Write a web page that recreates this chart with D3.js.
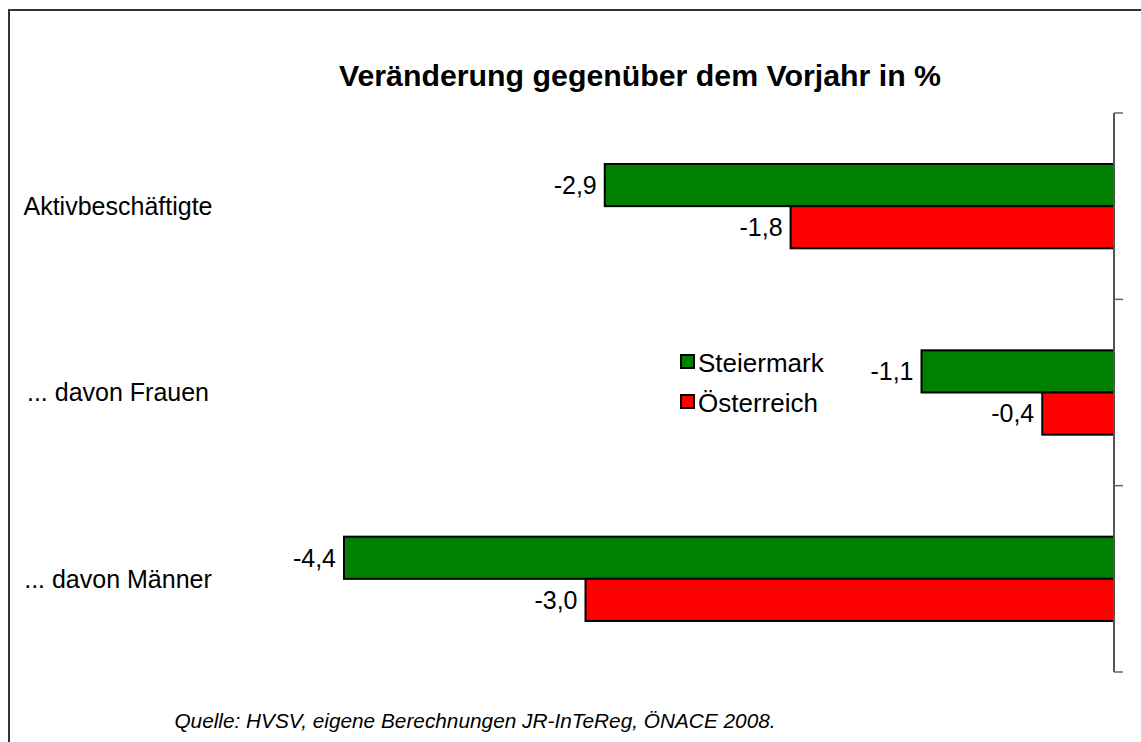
<!DOCTYPE html>
<html><head><meta charset="utf-8">
<script src="https://cdn.jsdelivr.net/npm/d3@7"></script>
<style>body{margin:0;background:#fff}svg{display:block}</style>
</head><body>
<script>
const categories = ["Aktivbeschäftigte", "... davon Frauen", "... davon Männer"];
const seriesNames = ["Steiermark", "Österreich"];
const steiermark = [-2.91, -1.10, -4.40];
const oesterreich = [-1.848, -0.41, -3.02];
const colors = ["#008000", "#ff0000"];
const title = "Veränderung gegenüber dem Vorjahr in %";
const source = "Quelle: HVSV, eigene Berechnungen JR-InTeReg, ÖNACE 2008.";

const W = 1141, H = 742;
const svg = d3.select("body").append("svg").attr("width", W).attr("height", H);
svg.append("rect").attr("x", 9).attr("y", 10).attr("width", W).attr("height", H)
  .attr("fill", "none").attr("stroke", "#333").attr("stroke-width", 2);

const font = "Liberation Sans, Arial, sans-serif";
const x = d3.scaleLinear().domain([-5, 0]).range([239, 1114]);
const y = d3.scaleBand().domain(categories).range([113, 672]);
const ySub = d3.scaleBand().domain(seriesNames).range([0, y.bandwidth()]).paddingOuter(1.21).paddingInner(0);

svg.append("text").attr("x", 640).attr("y", 86).attr("text-anchor", "middle")
  .attr("font-family", font).attr("font-weight", "bold").attr("font-size", 30.3).text(title);

const data = [steiermark, oesterreich];
data.forEach((vals, si) => {
  const g = svg.append("g");
  categories.forEach((c, i) => {
    const v = vals[i];
    const yy = y(c) + ySub(seriesNames[si]);
    g.append("rect").attr("x", x(v)).attr("y", yy).attr("width", x(0) - x(v)).attr("height", ySub.bandwidth())
      .attr("fill", colors[si]).attr("stroke", "#000").attr("stroke-width", 2);
    g.append("text").attr("x", x(v) - 8).attr("y", yy + ySub.bandwidth() / 2).attr("dy", "0.35em")
      .attr("text-anchor", "end").attr("font-family", font).attr("font-size", 25)
      .text(d3.format(".1f")(v).replace("−", "-").replace(".", ","));
  });
});

// axis at zero with ticks on the right
const axis = svg.append("g").attr("transform", `translate(${x(0)},0)`);
axis.append("line").attr("x1", 0).attr("x2", 0).attr("y1", 113).attr("y2", 672).attr("stroke", "#555").attr("stroke-width", 2);
const tickYs = categories.map(c => y(c)).concat([672]);
tickYs.forEach(t => axis.append("line").attr("x1", 0).attr("x2", 9).attr("y1", t).attr("y2", t).attr("stroke", "#666").attr("stroke-width", 1.5));

// category labels
categories.forEach(c => {
  svg.append("text").attr("x", 118).attr("y", y(c) + y.bandwidth() / 2).attr("dy", "0.35em")
    .attr("text-anchor", "middle").attr("font-family", font).attr("font-size", 25).text(c);
});

// legend
const leg = svg.append("g").attr("transform", "translate(681,355)");
seriesNames.forEach((s, i) => {
  leg.append("rect").attr("x", 0).attr("y", i * 40).attr("width", 13).attr("height", 13)
    .attr("fill", colors[i]).attr("stroke", "#000").attr("stroke-width", 2);
  leg.append("text").attr("x", 17).attr("y", i * 40 + 8).attr("dy", "0.35em")
    .attr("font-family", font).attr("font-size", 26).text(s);
});

svg.append("text").attr("x", 475).attr("y", 728).attr("text-anchor", "middle")
  .attr("font-family", font).attr("font-style", "italic").attr("font-size", 20.8).text(source);
</script>
</body></html>
